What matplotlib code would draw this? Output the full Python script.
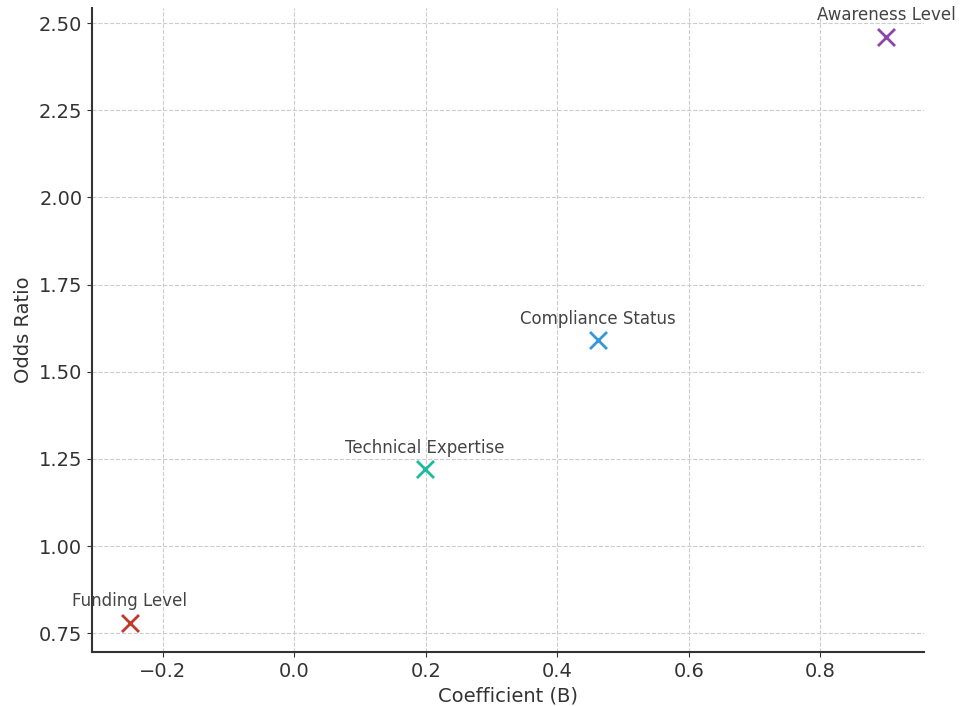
import matplotlib
matplotlib.use("Agg")
import matplotlib.pyplot as plt

# predictors with their coefficient and odds ratio
variables = ["Funding Level", "Technical Expertise", "Compliance Status", "Awareness Level"]
coefficients = [-0.25, 0.198, 0.462, 0.90]
odds_ratios = [0.78, 1.22, 1.59, 2.46]
colors = ["#c0392b", "#1abc9c", "#3498db", "#8e44ad"]

fig, ax = plt.subplots(figsize=(9.6, 7.06), dpi=100)
plt.subplots_adjust(left=0.096, right=0.9625, bottom=0.0765, top=0.989)

for name, b, orr, c in zip(variables, coefficients, odds_ratios, colors):
    ax.scatter(b, orr, marker="x", s=150, color=c, linewidths=2, zorder=3)
    ax.annotate(name, (b, orr), textcoords="offset points", xytext=(0, 12),
                ha="center", fontsize=12, color="#444444", zorder=4)

ax.set_xlabel("Coefficient (B)", fontsize=14, color="#333333")
ax.set_ylabel("Odds Ratio", fontsize=14, color="#333333")
ax.tick_params(labelsize=14, colors="#333333")
ax.grid(True, linestyle="--", color="#cccccc", linewidth=0.8)
ax.set_axisbelow(True)
ax.spines["top"].set_visible(False)
ax.spines["right"].set_visible(False)
ax.spines["left"].set_linewidth(1.5)
ax.spines["bottom"].set_linewidth(1.5)
ax.spines["left"].set_color("#333333")
ax.spines["bottom"].set_color("#333333")

fig.savefig("out.png", dpi=100)
